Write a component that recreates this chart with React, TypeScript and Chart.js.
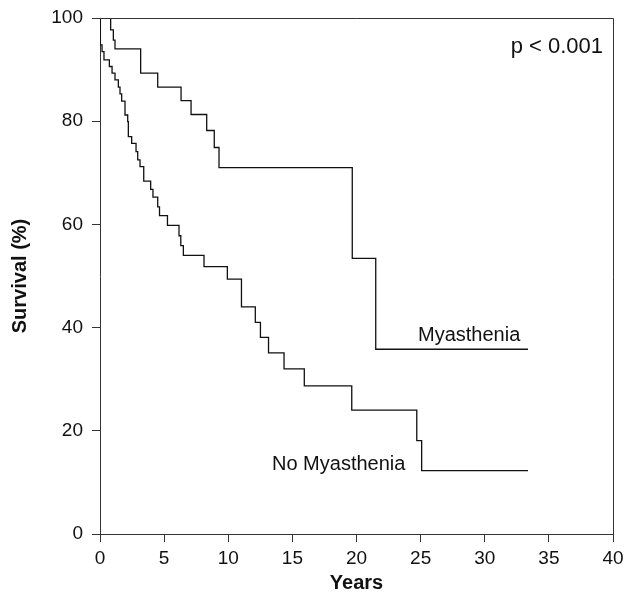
import { useEffect, useRef } from "react";
import { Chart, registerables } from "chart.js";

Chart.register(...registerables);

// Kaplan-Meier steps: time (years) at which survival drops to the given value
const myastheniaYears = [0, 0.83, 1.04, 1.17, 3.17, 4.5, 6.32, 7.1, 8.32, 8.91, 9.28, 19.67, 21.5, 33.37];
const myastheniaSurvival = [100, 97.7, 95.7, 94.0, 89.3, 86.6, 84.0, 81.3, 78.2, 74.9, 71.0, 53.4, 35.8, 35.8];

const noMyastheniaYears = [
  0, 0.03, 0.16, 0.31, 0.73, 0.94, 1.17, 1.43, 1.56, 1.69, 1.95, 2.16, 2.21, 2.47, 2.81, 2.94,
  3.12, 3.41, 3.95, 4.13, 4.5, 4.64, 5.26, 6.16, 6.3, 6.5, 8.11, 9.93, 11.03, 12.11, 12.51,
  13.14, 14.35, 15.93, 19.63, 24.7, 25.08, 33.37,
];
const noMyastheniaSurvival = [
  100, 94.8, 93.5, 91.9, 90.6, 89.3, 88.0, 86.6, 85.3, 83.9, 81.2, 79.9, 77.0, 75.7, 74.1, 72.5,
  71.2, 68.4, 66.8, 65.3, 63.4, 61.7, 59.8, 57.8, 55.9, 54.0, 51.8, 49.4, 44.0, 41.0, 38.1,
  35.1, 32.0, 28.7, 24.0, 18.1, 12.3, 12.3,
];

const xTicks = [0, 5, 10, 15, 20, 25, 30, 35, 40];
const yTicks = [0, 20, 40, 60, 80, 100];

const seriesLabels = ["Myasthenia", "No Myasthenia"];
const pValueText = "p < 0.001";
const xTitle = "Years";
const yTitle = "Survival (%)";

const FONT = "'Liberation Sans', Arial, Helvetica, sans-serif";
const AXIS_COLOR = "#333";

const toPoints = (xs: number[], ys: number[]) => xs.map((x, i) => ({ x, y: ys[i] }));

export default function App() {
  const canvasRef = useRef<HTMLCanvasElement | null>(null);

  useEffect(() => {
    const canvas = canvasRef.current;
    if (!canvas) return;

    const framePlugin = {
      id: "frameAndLabels",
      afterDraw(chart: any) {
        const { ctx, chartArea } = chart;
        ctx.save();
        ctx.strokeStyle = AXIS_COLOR;
        ctx.lineWidth = 1;
        ctx.beginPath();
        ctx.moveTo(chartArea.left, chartArea.top + 0.5);
        ctx.lineTo(chartArea.right + 0.5, chartArea.top + 0.5);
        ctx.lineTo(chartArea.right + 0.5, chartArea.bottom);
        ctx.stroke();

        ctx.fillStyle = "#111";
        ctx.textBaseline = "middle";
        ctx.font = `22px ${FONT}`;
        ctx.textAlign = "right";
        ctx.fillText(pValueText, 603, 47);

        ctx.font = `20px ${FONT}`;
        ctx.textAlign = "left";
        ctx.fillText(seriesLabels[0], 418, 335);
        ctx.fillText(seriesLabels[1], 272, 464);
        ctx.restore();
      },
    };

    const chart = new Chart(canvas, {
      type: "line",
      data: {
        datasets: [
          {
            label: seriesLabels[0],
            data: toPoints(myastheniaYears, myastheniaSurvival),
            borderColor: "#111",
            borderWidth: 1.3,
            pointRadius: 0,
            stepped: "before",
            fill: false,
          },
          {
            label: seriesLabels[1],
            data: toPoints(noMyastheniaYears, noMyastheniaSurvival),
            borderColor: "#111",
            borderWidth: 1.3,
            pointRadius: 0,
            stepped: "before",
            fill: false,
          },
        ],
      },
      options: {
        animation: false,
        responsive: false,
        maintainAspectRatio: false,
        layout: { padding: { top: 18, right: 14, left: 0, bottom: 0 } },
        plugins: {
          legend: { display: false },
          tooltip: { enabled: false },
        },
        scales: {
          x: {
            type: "linear",
            min: 0,
            max: 40,
            afterBuildTicks: (scale: any) => {
              scale.ticks = xTicks.map((v) => ({ value: v }));
            },
            afterFit: (scale: any) => {
              scale.height = 72;
              scale.paddingLeft = 0;
              scale.paddingRight = 0;
            },
            grid: {
              drawOnChartArea: false,
              drawTicks: true,
              tickLength: 8,
              color: AXIS_COLOR,
            },
            border: { display: true, color: AXIS_COLOR },
            ticks: {
              color: "#111",
              font: { family: FONT, size: 19 },
              padding: 5,
              maxRotation: 0,
              autoSkip: false,
            },
            title: {
              display: true,
              text: xTitle,
              color: "#111",
              font: { family: FONT, size: 20, weight: "bold" },
              padding: { top: 0, bottom: 11 },
            },
          },
          y: {
            type: "linear",
            min: 0,
            max: 100,
            afterBuildTicks: (scale: any) => {
              scale.ticks = yTicks.map((v) => ({ value: v }));
            },
            afterFit: (scale: any) => {
              scale.width = 100;
              scale.paddingTop = 0;
              scale.paddingBottom = 0;
            },
            grid: {
              drawOnChartArea: false,
              drawTicks: true,
              tickLength: 8,
              color: AXIS_COLOR,
            },
            border: { display: true, color: AXIS_COLOR },
            ticks: {
              color: "#111",
              font: { family: FONT, size: 19 },
              padding: 9,
              autoSkip: false,
            },
            title: {
              display: true,
              text: yTitle,
              color: "#111",
              font: { family: FONT, size: 20, weight: "bold" },
              padding: { top: 8, bottom: 0 },
            },
          },
        },
      },
      plugins: [framePlugin],
    } as any);

    return () => {
      chart.destroy();
    };
  }, []);

  return (
    <div style={{ position: "fixed", left: 0, top: 0, width: 627, height: 606, background: "#fff" }}>
      <canvas ref={canvasRef} width={627} height={606} style={{ display: "block", width: 627, height: 606 }} />
    </div>
  );
}
